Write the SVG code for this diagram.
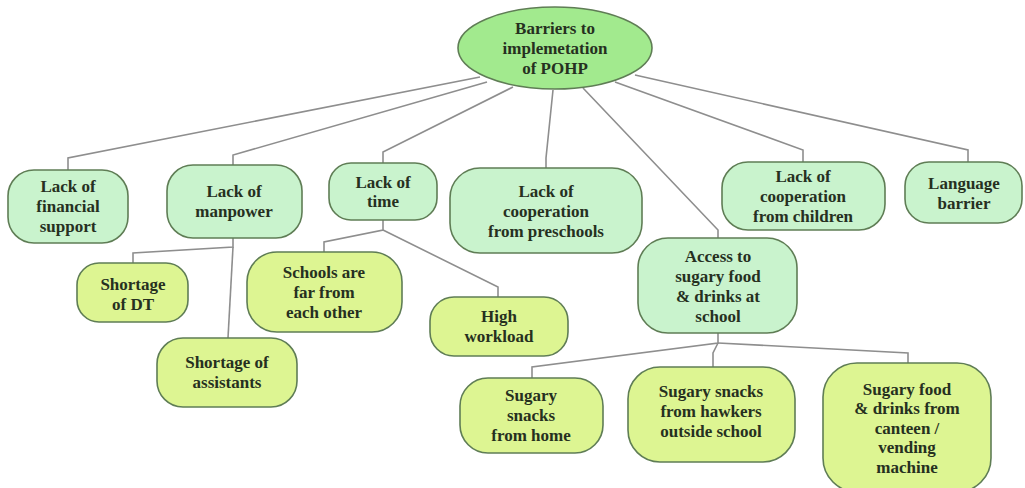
<svg xmlns="http://www.w3.org/2000/svg" width="1025" height="488" viewBox="0 0 1025 488">
<style>
.l1{fill:#c9f3cd;stroke:#5f7d55;stroke-width:1.6}
.l2{fill:#ddf592;stroke:#5f7d55;stroke-width:1.6}
.root{fill:#a2ea8e;stroke:#5f7d55;stroke-width:1.6}
.c{fill:none;stroke:#8e8e8e;stroke-width:1.6}
text{font-family:"Liberation Serif","DejaVu Serif",serif;font-size:17px;font-weight:bold;fill:#26301f;text-anchor:middle}
</style>
<rect width="1025" height="488" fill="#ffffff"/>
<g id="connectors">
<polyline class="c" points="480,77 68,158 68,170"/>
<polyline class="c" points="487,82 233,155 233,165"/>
<polyline class="c" points="513,87 383,152 383,163"/>
<polyline class="c" points="553,90 546,158 546,168"/>
<polyline class="c" points="583,88 718,230 718,238"/>
<polyline class="c" points="615,82 803,150 803,162"/>
<polyline class="c" points="635,75 968,150 968,162"/>
<polyline class="c" points="233,238 233,247 133,253 133,263"/>
<polyline class="c" points="233,247 228,338"/>
<polyline class="c" points="383,220 383,230 324,242 324,252"/>
<polyline class="c" points="383,230 498,287 498,297"/>
<polyline class="c" points="718,333 718,343 532,367 532,378"/>
<polyline class="c" points="718,343 713,353 713,367"/>
<polyline class="c" points="718,343 908,353 908,363"/>
</g>
<g id="root">
<ellipse class="root" cx="555" cy="48" rx="97" ry="41"/>
<text x="555" y="34">Barriers to</text>
<text x="555" y="54">implemetation</text>
<text x="555" y="74">of POHP</text>
</g>
<g id="financial">
<rect class="l1" x="8" y="170" width="120" height="73" rx="26"/>
<text x="68" y="192">Lack of</text>
<text x="68" y="212">financial</text>
<text x="68" y="232">support</text>
</g>
<g id="manpower">
<rect class="l1" x="167" y="165" width="135" height="73" rx="26"/>
<text x="234" y="197">Lack of</text>
<text x="234" y="217">manpower</text>
</g>
<g id="time">
<rect class="l1" x="329" y="163" width="108" height="57" rx="22"/>
<text x="383" y="188">Lack of</text>
<text x="383" y="207">time</text>
</g>
<g id="preschools">
<rect class="l1" x="450" y="168" width="192" height="85" rx="30"/>
<text x="546" y="197">Lack of</text>
<text x="546" y="217">cooperation</text>
<text x="546" y="237">from preschools</text>
</g>
<g id="children">
<rect class="l1" x="722" y="162" width="163" height="68" rx="26"/>
<text x="803" y="182">Lack of</text>
<text x="803" y="202">cooperation</text>
<text x="803" y="222">from children</text>
</g>
<g id="language">
<rect class="l1" x="905" y="162" width="117" height="61" rx="24"/>
<text x="964" y="189">Language</text>
<text x="964" y="209">barrier</text>
</g>
<g id="access">
<rect class="l1" x="638" y="238" width="159" height="95" rx="30"/>
<text x="718" y="262">Access to</text>
<text x="718" y="282">sugary food</text>
<text x="718" y="302">&amp; drinks at</text>
<text x="718" y="322">school</text>
</g>
<g id="shortage-dt">
<rect class="l2" x="77" y="263" width="111" height="59" rx="22"/>
<text x="133" y="290">Shortage</text>
<text x="133" y="310">of DT</text>
</g>
<g id="shortage-assistants">
<rect class="l2" x="157" y="338" width="140" height="69" rx="26"/>
<text x="227" y="368">Shortage of</text>
<text x="227" y="388">assistants</text>
</g>
<g id="schools-far">
<rect class="l2" x="247" y="252" width="155" height="80" rx="30"/>
<text x="324" y="278">Schools are</text>
<text x="324" y="298">far from</text>
<text x="324" y="318">each other</text>
</g>
<g id="high-workload">
<rect class="l2" x="430" y="297" width="138" height="59" rx="24"/>
<text x="499" y="322">High</text>
<text x="499" y="342">workload</text>
</g>
<g id="snacks-home">
<rect class="l2" x="460" y="378" width="143" height="75" rx="28"/>
<text x="531" y="401">Sugary</text>
<text x="531" y="421">snacks</text>
<text x="531" y="441">from home</text>
</g>
<g id="snacks-hawkers">
<rect class="l2" x="628" y="367" width="167" height="95" rx="32"/>
<text x="711" y="397">Sugary snacks</text>
<text x="711" y="417">from hawkers</text>
<text x="711" y="437">outside school</text>
</g>
<g id="canteen">
<rect class="l2" x="823" y="363" width="168" height="129" rx="34"/>
<text x="907" y="395">Sugary food</text>
<text x="907" y="414">&amp; drinks from</text>
<text x="907" y="434">canteen /</text>
<text x="907" y="453">vending</text>
<text x="907" y="473">machine</text>
</g>
</svg>
